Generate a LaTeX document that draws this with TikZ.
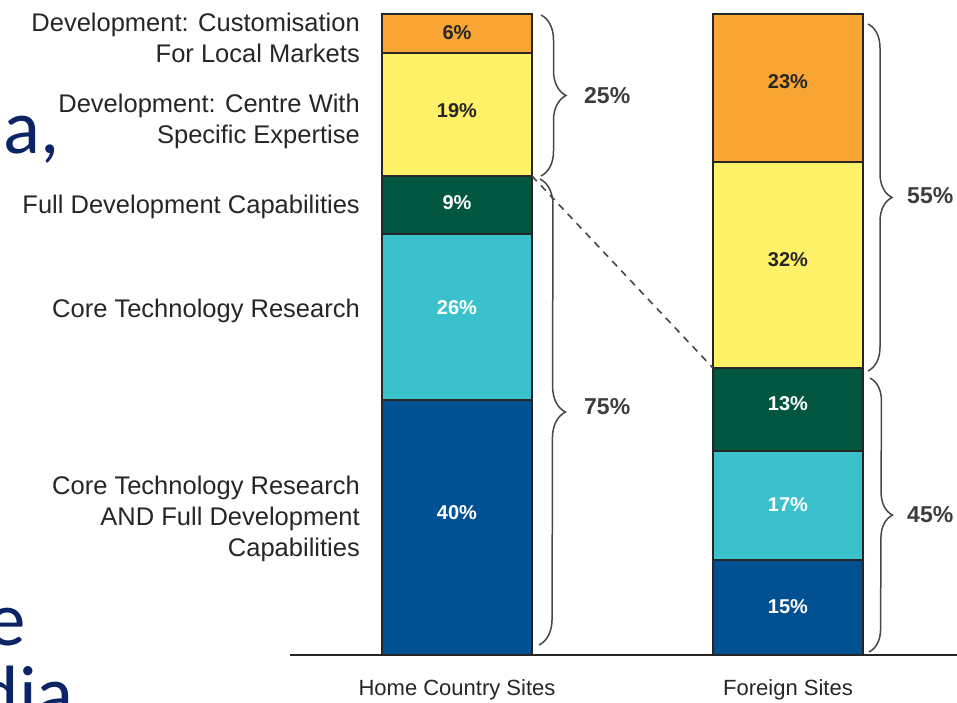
\documentclass[tikz,border=0pt]{standalone}
\usepackage{fontspec}
\setmainfont{Liberation Sans}
\newfontfamily\slidefont{Carlito}
\usetikzlibrary{decorations.pathreplacing}
\definecolor{corange}{HTML}{F8A533}
\definecolor{cyellow}{HTML}{FFF168}
\definecolor{cgreen}{HTML}{00563F}
\definecolor{ccyan}{HTML}{3BC1CB}
\definecolor{cblue}{HTML}{005092}
\definecolor{slideblue}{HTML}{0C2466}
\definecolor{ink}{HTML}{262626}
\begin{document}
\begin{tikzpicture}[x=1pt,y=-1pt,
  seg/.style={draw=ink, line width=1.6pt, minimum width=150pt, inner sep=0pt, outer sep=0pt},
  pct/.style={font=\fontsize{20}{20}\selectfont\bfseries, inner sep=0pt},
  lbl/.style={font=\fontsize{25.5}{31}\selectfont, text=ink, align=right, anchor=east, inner sep=0pt},
  tot/.style={font=\fontsize{23}{23}\selectfont\bfseries, text=ink!90, anchor=west, inner sep=0pt},
  axlbl/.style={font=\fontsize{22}{22}\selectfont, text=ink, inner sep=0pt},
  slide/.style={font=\slidefont\fontsize{77}{77}\selectfont, text=slideblue, inner sep=0pt},
  brc/.style={decorate, decoration={brace, amplitude=#1}, draw=ink!85, line width=1.5pt},
  link/.style={draw=ink!85, line width=1.6pt, dash pattern=on 7pt off 6pt},
]
\useasboundingbox (0,0) rectangle (957,702);
\clip (0,0) rectangle (957,702);

% slide text fragments behind the chart
\node[slide, anchor=base west] (sa) at (3,153) {a,};
\node[slide, anchor=base east] (se) at (26,645) {e};
\node[slide, anchor=base east] (sd) at (74,719) {dia};

% home country bar
\node[seg, fill=corange, minimum height=39pt]  (h1) at (457,33.5) {};
\node[seg, fill=cyellow, minimum height=123pt] (h2) at (457,114.5) {};
\node[seg, fill=cgreen,  minimum height=58pt]  (h3) at (457,205) {};
\node[seg, fill=ccyan,   minimum height=166pt] (h4) at (457,317) {};
\node[seg, fill=cblue,   minimum height=255pt] (h5) at (457,527.5) {};
\node[pct, text=ink]   (t1) at (457,33) {6\%};
\node[pct, text=ink]   (t2) at (457,111) {19\%};
\node[pct, text=white] (t3) at (457,203) {9\%};
\node[pct, text=white] (t4) at (457,308) {26\%};
\node[pct, text=white] (t5) at (457,513) {40\%};

% foreign bar
\node[seg, fill=corange, minimum height=148pt] (f1) at (788,88) {};
\node[seg, fill=cyellow, minimum height=206pt] (f2) at (788,265) {};
\node[seg, fill=cgreen,  minimum height=83pt]  (f3) at (788,409.5) {};
\node[seg, fill=ccyan,   minimum height=109pt] (f4) at (788,505.5) {};
\node[seg, fill=cblue,   minimum height=95pt]  (f5) at (788,607.5) {};
\node[pct, text=ink]   (u1) at (788,82) {23\%};
\node[pct, text=ink]   (u2) at (788,260) {32\%};
\node[pct, text=white] (u3) at (788,404) {13\%};
\node[pct, text=white] (u4) at (788,505) {17\%};
\node[pct, text=white] (u5) at (788,607) {15\%};

% axis
\coordinate (ax1) at (290,655);
\coordinate (ax2) at (957,655);
\draw[ink, line width=2pt] (ax1) -- (ax2);

% dashed link
\draw[link] (h2.south east) -- (f2.south west);

% braces
\coordinate (b1a) at (541,15);  \coordinate (b1b) at (541,176);
\coordinate (b2a) at (540,179); \coordinate (b2b) at (539,645);
\coordinate (b3a) at (868,24);  \coordinate (b3b) at (868,371);
\coordinate (b4a) at (870,378); \coordinate (b4b) at (869,652);
\draw[brc=25pt] (b1a) -- (b1b);
\draw[brc=26pt] (b2a) -- (b2b);
\draw[brc=24pt] (b3a) -- (b3b);
\draw[brc=23pt] (b4a) -- (b4b);
\node[tot] (p25) at (584,96) {25\%};
\node[tot] (p75) at (584,407) {75\%};
\node[tot] (p55) at (907,196) {55\%};
\node[tot] (p45) at (907,515) {45\%};

% category labels
\node[lbl] (l1) at (360,38)  {Development: Customisation\\For Local Markets};
\node[lbl] (l2) at (360,121) {Development: Centre With\\Specific Expertise};
\node[lbl] (l3) at (360,207) {Full Development Capabilities};
\node[lbl] (l4) at (360,311) {Core Technology Research};
\node[lbl] (l5) at (360,519) {Core Technology Research\\AND Full Development\\Capabilities};

% axis labels
\node[axlbl] (x1) at (457,690) {Home Country Sites};
\node[axlbl] (x2) at (788,690) {Foreign Sites};
\end{tikzpicture}
\end{document}
